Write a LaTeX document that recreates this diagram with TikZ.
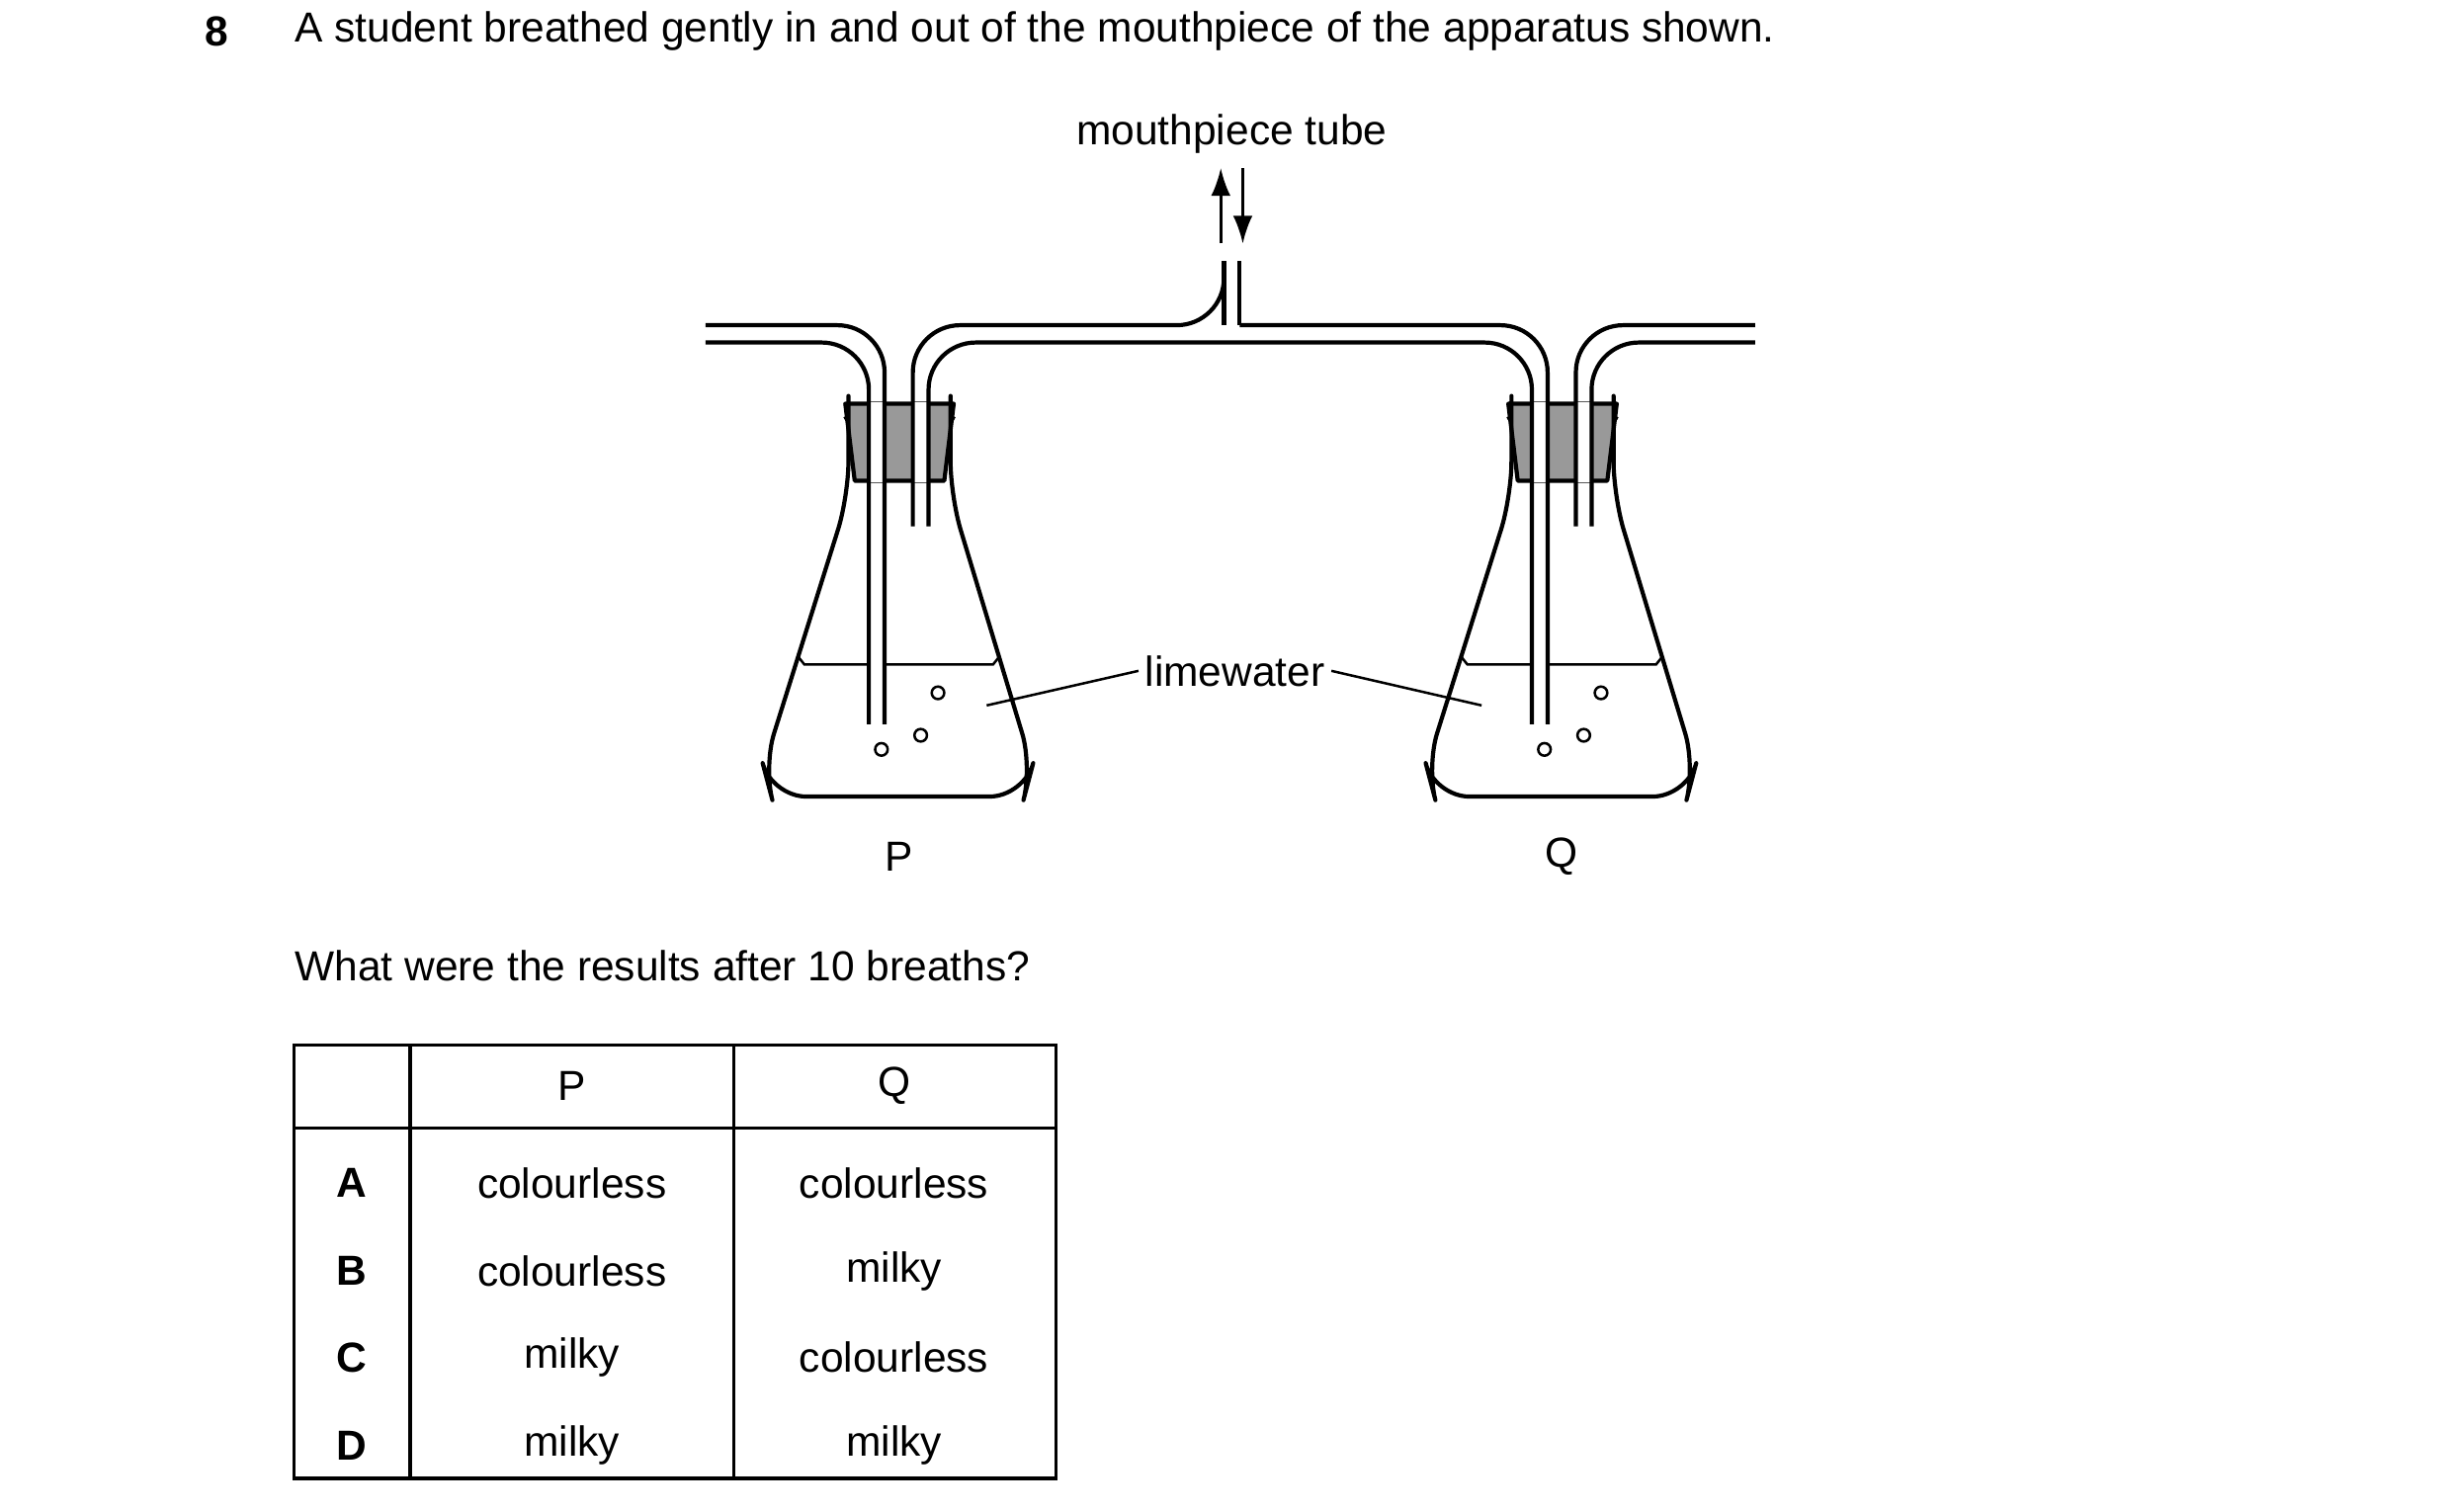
\documentclass[tikz,border=0pt]{standalone}
\usepackage{fontspec}
\setmainfont{Liberation Sans}
\usetikzlibrary{arrows.meta,positioning}

\begin{document}
\begin{tikzpicture}[x=0.01cm,y=-0.01cm,
    txt/.style={inner sep=0pt,font=\fontsize{7.6}{9}\selectfont},
    glass/.style={line width=0.75pt,line join=round},
    thin/.style={line width=0.45pt},
    grid/.style={line width=0.6pt}]
%
\useasboundingbox (0,0) rectangle (1560,961.8);
%
\definecolor{cbung}{rgb}{0.6,0.6,0.6}
%
% question
\node[txt,font=\fontsize{7.6}{9}\selectfont\bfseries] (qno) at (138,20) {8};
\node[txt,anchor=west] (qtext) at (187,20) {A student breathed gently in and out of the mouthpiece of the apparatus shown.};
\node[txt] (mouth) at (784,85) {mouthpiece tube};
%
\coordinate (up0) at (777,155);
\coordinate (up1) at (777,107);
\coordinate (dn0) at (791,107);
\coordinate (dn1) at (791,155);
\draw[thin,-{Latex[length=5pt,width=3.5pt]}] (up0) -- (up1);
\draw[thin,-{Latex[length=5pt,width=3.5pt]}] (dn0) -- (dn1);
%
% flasks
\foreach \s/\n in {0/P,422/Q}{
  \begin{scope}[xshift=\s*0.01cm]
    \fill[cbung,draw=black,glass] (538,257) -- (607,257) -- (601,306) -- (544,306) -- cycle;
    \fill[white] (553.5,256) rectangle (562.5,307);
    \fill[white] (581.5,256) rectangle (590.5,307);
    \draw[glass,rounded corners=2.2mm] (538,265) .. controls (540,269) .. (540,274)
      -- (540,316) -- (486,488) -- (491,507) -- (652,507) -- (657,488) -- (605,316) -- (605,274)
      .. controls (605,269) .. (607,265);
    \draw[thin] (508,418) -- (512,423) -- (553,423);
    \draw[thin] (563,423) -- (632,423) -- (636,418);
    \foreach \bx/\by in {597/441,586/468,561/477}
      \draw[thin] (\bx,\by) circle (4);
    \node[txt] (lab\n) at (572,545) {\n};
  \end{scope}
}
%
% tubes
\draw[glass,rounded corners=3mm] (449,207) -| (563,461);
\draw[glass,rounded corners=3mm] (449,218) -| (553,461);
\draw[glass,rounded corners=3mm] (581,335) |- (779,207) -- (779,206);
\draw[glass] (779,207) -- (779,166);
\draw[glass] (789,207) -- (789,166);
\draw[glass,rounded corners=3mm] (789,207) -| (985,461);
\draw[glass,rounded corners=3mm] (591,335) |- (800,218) -| (975,461);
\draw[glass,rounded corners=3mm] (1003,335) |- (1117,207);
\draw[glass,rounded corners=3mm] (1013,335) |- (1117,218);
%
\node[txt,fill=white,inner sep=1pt] (lime) at (786,427) {limewater};
\coordinate (limeP) at (628,449);
\coordinate (limeQ) at (943,449);
\draw[thin] (lime.west) -- (limeP);
\draw[thin] (lime.east) -- (limeQ);
%
% table
\node[txt,anchor=west] (ask) at (187,615) {What were the results after 10 breaths?};
\draw[grid] (187,665) rectangle (672,941);
\draw[grid] (187,718) -- (672,718);
\draw[grid] (261,665) -- (261,941);
\draw[grid] (467,665) -- (467,941);
\node[txt] (hP) at (364,691) {P};
\node[txt] (hQ) at (569,691) {Q};
\foreach \r/\y/\p/\q in {A/753/colourless/colourless,B/809/colourless/milky,C/864/milky/colourless,D/920/milky/milky}{
  \node[txt,font=\fontsize{7.6}{9}\selectfont\bfseries] (row\r) at (224,\y) {\r};
  \node[txt] (p\r) at (364,\y) {\p};
  \node[txt] (q\r) at (569,\y) {\q};
}
%
\end{tikzpicture}
\end{document}
